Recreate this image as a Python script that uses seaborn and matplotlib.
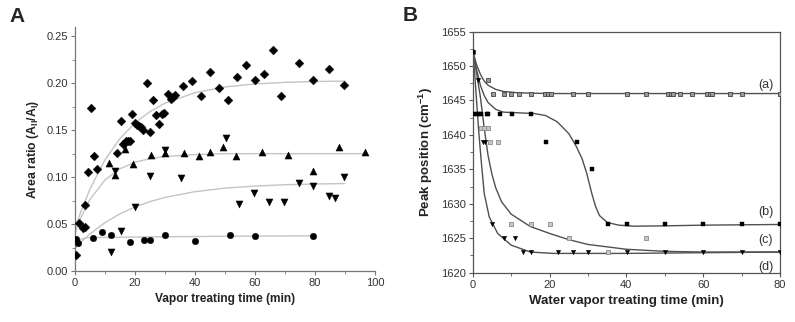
import numpy as np
import pandas as pd
import seaborn as sns
import matplotlib.pyplot as plt
from matplotlib.ticker import MultipleLocator

# Panel A: area ratio vs vapor treating time, four series
dia_x = [0.3, 1.3, 2.6, 3.3, 3.2, 4.2, 5.2, 6.2, 7.2, 14.1, 15.2, 16.1, 16.9, 17.6, 18.3, 19.1,
         20.1, 20.8, 21.4, 22.1, 22.8, 24.0, 25.1, 26.0, 26.9, 28.0, 29.0, 29.8, 30.9, 32.0,
         32.7, 33.2, 35.9, 38.9, 41.9, 44.9, 48.0, 50.9, 53.9, 56.9, 59.9, 62.9, 65.9, 68.7,
         74.7, 79.4, 84.7, 89.7]
dia_y = [0.017, 0.051, 0.0455, 0.047, 0.070, 0.105, 0.1735, 0.122, 0.109, 0.126, 0.160, 0.135,
         0.138, 0.139, 0.139, 0.167, 0.1575, 0.156, 0.1547, 0.1529, 0.1504, 0.1998, 0.148, 0.182,
         0.166, 0.157, 0.167, 0.168, 0.189, 0.183, 0.185, 0.187, 0.197, 0.2027, 0.186, 0.212,
         0.195, 0.182, 0.207, 0.219, 0.204, 0.2098, 0.2357, 0.186, 0.222, 0.204, 0.215, 0.198]
up_x = [11.3, 13.3, 16.8, 19.2, 25.2, 29.9, 36.4, 41.2, 45.0, 49.4, 53.8, 62.2, 71.0, 79.4, 87.9, 96.7]
up_y = [0.115, 0.1024, 0.130, 0.114, 0.124, 0.126, 0.126, 0.122, 0.127, 0.1326, 0.123, 0.1266,
        0.124, 0.107, 0.1326, 0.1266]
down_x = [12.0, 13.3, 15.2, 16.7, 20.1, 25.1, 29.9, 35.2, 50.2, 54.7, 59.8, 64.8, 69.8, 74.7,
          79.4, 84.7, 86.7, 89.7]
down_y = [0.020, 0.107, 0.0427, 0.134, 0.0686, 0.1013, 0.129, 0.0996, 0.142, 0.0715, 0.0836,
          0.074, 0.073, 0.0935, 0.091, 0.080, 0.0775, 0.1006]
circ_x = [0.4, 1.1, 6.1, 9.1, 12.1, 18.2, 23.1, 25.1, 29.9, 40.0, 51.8, 59.9, 79.4]
circ_y = [0.034, 0.0296, 0.035, 0.042, 0.038, 0.0313, 0.033, 0.033, 0.0388, 0.032, 0.0388,
          0.0377, 0.0377]

# fitted curves of panel A
fit_dia_x = [0, 2, 5, 10, 15, 20, 25, 30, 40, 50, 60, 70, 80, 90]
fit_dia_y = [0.045, 0.0636, 0.0873, 0.1184, 0.1411, 0.1577, 0.1699, 0.1788, 0.1900, 0.1961,
             0.1993, 0.2010, 0.2019, 0.2024]
fit_up_x = [0, 2, 5, 10, 15, 20, 25, 30, 40, 50, 96]
fit_up_y = [0.040, 0.057, 0.0762, 0.097, 0.109, 0.1158, 0.1197, 0.122, 0.124, 0.125, 0.125]
fit_down_x = [0, 2, 5, 10, 15, 20, 25, 30, 40, 50, 60, 70, 80, 90]
fit_down_y = [0.024, 0.0307, 0.0395, 0.0515, 0.0609, 0.0682, 0.0739, 0.0784, 0.0845, 0.0883,
              0.0905, 0.0919, 0.0927, 0.0932]
fit_circ_x = [0, 1, 2, 4, 10, 30, 50, 80]
fit_circ_y = [0.027, 0.031, 0.034, 0.0355, 0.0358, 0.0365, 0.037, 0.0375]

# Panel B: peak position vs water vapor treating time
a_x = [0.2, 4.1, 5.2, 8.1, 10.1, 12.1, 15.2, 18.9, 19.5, 20.3, 26.0, 30.1, 40.2, 45.0, 50.9,
       51.5, 52.2, 54.1, 57.1, 60.9, 61.7, 62.2, 67.0, 70.0, 80.0]
a_y = [1652, 1648] + [1646] * 23
b_x = [0.2, 0.4, 1.0, 1.6, 2.2, 3.6, 4.1, 7.1, 10.2, 15.2, 19.1, 27.2, 31.0, 35.3, 40.2, 50.1,
       60.0, 70.0, 80.0]
b_y = [1652] + [1643] * 9 + [1639, 1639, 1635] + [1627] * 6
c_x = [2.2, 3.0, 4.1, 4.6, 6.7, 10.0, 15.2, 20.0, 25.2, 35.1, 45.0]
c_y = [1641, 1641, 1641, 1639, 1639, 1627, 1627, 1627, 1625, 1623, 1625]
d_x = [1.3, 2.6, 3.2, 5.0, 8.1, 11.1, 13.2, 15.2, 22.1, 26.0, 30.0, 40.2, 50.0, 60.0, 70.0, 80.0]
d_y = [1648, 1639, 1639, 1627, 1625, 1625] + [1623] * 10

fit_a_x = [0, 1, 2, 3, 4, 6, 8, 12, 20, 80]
fit_a_y = [1652.2, 1650.2, 1648.8, 1647.8, 1647.2, 1646.6, 1646.3, 1646.1, 1646.0, 1646.0]
fit_b_x = [0, 1, 2, 3, 4, 6, 8, 12, 16, 19, 22, 25, 27, 28.5, 29.7, 31, 32, 33, 35, 38, 42, 50, 60, 80]
fit_b_y = [1652.2, 1649.5, 1647.2, 1645.7, 1644.7, 1643.7, 1643.3, 1643.2, 1643.1, 1642.8,
           1641.9, 1640.2, 1638.3, 1636.5, 1634.4, 1631.5, 1629.6, 1628.3, 1627.3, 1626.9,
           1626.75, 1626.8, 1626.9, 1627.0]
fit_c_x = [0, 1, 2, 3, 4, 5, 6, 7.5, 10, 15, 20, 25, 30, 40, 50, 60, 80]
fit_c_y = [1652.2, 1649.0, 1645.5, 1641.0, 1637.0, 1634.3, 1632.3, 1630.3, 1628.5, 1626.7,
           1625.7, 1624.8, 1624.1, 1623.4, 1623.1, 1623.0, 1623.0]
fit_d_x = [0, 0.5, 1, 1.5, 2.2, 3, 4.3, 6.5, 10, 15, 21, 40, 60, 80]
fit_d_y = [1652.2, 1649.0, 1645.0, 1641.0, 1636.3, 1631.5, 1628.1, 1625.7, 1624.0, 1623.0,
           1622.8, 1622.8, 1622.9, 1623.0]

sns.set_style("ticks")
plt.rcParams['font.family'] = ['Liberation Sans', 'DejaVu Sans']
plt.rcParams['mathtext.fontset'] = 'custom'
plt.rcParams['mathtext.rm'] = 'Liberation Sans'
plt.rcParams['mathtext.bf'] = 'Liberation Sans:bold'

fig = plt.figure(figsize=(7.95, 3.22), dpi=100)
ax1 = fig.add_axes([0.0943, 0.1584, 0.3774, 0.7578])
ax2 = fig.add_axes([0.5946, 0.1531, 0.3865, 0.749])

# ---- panel A ----
fitc = "#c4c4c4"
for fx, fy in [(fit_dia_x, fit_dia_y), (fit_up_x, fit_up_y), (fit_down_x, fit_down_y),
               (fit_circ_x, fit_circ_y)]:
    sns.lineplot(x=fx, y=fy, ax=ax1, color=fitc, lw=1.0, zorder=1)

for xs, ys, m, s in [(dia_x, dia_y, "D", 20), (up_x, up_y, "^", 26), (down_x, down_y, "v", 26),
                     (circ_x, circ_y, "o", 22)]:
    sns.scatterplot(x=xs, y=ys, ax=ax1, marker=m, s=s, color="black", edgecolor="black",
                    linewidth=0.3, zorder=3)

ax1.set_xlim(0, 100)
ax1.set_ylim(0, 0.26)
ax1.set_yticks([0, 0.05, 0.10, 0.15, 0.20, 0.25])
ax1.set_yticklabels(["0.00", "0.05", "0.10", "0.15", "0.20", "0.25"])
ax1.xaxis.set_minor_locator(MultipleLocator(10))
ax1.yaxis.set_minor_locator(MultipleLocator(0.025))
sns.despine(ax=ax1)
ax1.set_xlabel("Vapor treating time (min)", fontsize=8.6, fontweight="bold", color="#222222")
ax1.set_ylabel(r"Area ratio (A$_{\mathbf{II}}$/A$_{\mathbf{I}}$)", fontsize=8.8, fontweight="bold",
               color="#222222")

# ---- panel B ----
linec = "#505050"
for fx, fy in [(fit_a_x, fit_a_y), (fit_b_x, fit_b_y), (fit_c_x, fit_c_y), (fit_d_x, fit_d_y)]:
    sns.lineplot(x=fx, y=fy, ax=ax2, color=linec, lw=1.0, zorder=1)

sns.scatterplot(x=a_x, y=a_y, ax=ax2, marker="s", s=8, color="#9a9a9a", edgecolor="#444444",
                linewidth=0.6, zorder=3)
sns.scatterplot(x=c_x, y=c_y, ax=ax2, marker="s", s=12, color="#c8c8c8", edgecolor="#8a8a8a",
                linewidth=0.6, zorder=3)
sns.scatterplot(x=b_x, y=b_y, ax=ax2, marker="s", s=9, color="black", edgecolor="black",
                linewidth=0.3, zorder=4)
sns.scatterplot(x=d_x, y=d_y, ax=ax2, marker="v", s=10, color="black", edgecolor="black",
                linewidth=0.3, zorder=4)

ax2.set_xlim(0, 80)
ax2.set_ylim(1620, 1655)
ax2.set_xticks([0, 20, 40, 60, 80])
ax2.set_yticks([1620, 1625, 1630, 1635, 1640, 1645, 1650, 1655])
ax2.xaxis.set_minor_locator(MultipleLocator(10))
ax2.yaxis.set_minor_locator(MultipleLocator(2.5))
ax2.set_xlabel("Water vapor treating time (min)", fontsize=9.5, fontweight="bold", color="#222222")
ax2.set_ylabel(r"Peak position (cm$^{\mathbf{-1}}$)", fontsize=9.5, fontweight="bold", color="#222222")
for lab, ly in [("(a)", 1647.2), ("(b)", 1628.8), ("(c)", 1624.8), ("(d)", 1620.9)]:
    ax2.text(76.3, ly, lab, fontsize=9, ha="center", va="center", color="#333333")

for ax, sc in [(ax1, "#777777"), (ax2, "#555555")]:
    for sp in ax.spines.values():
        sp.set_color(sc)
        sp.set_linewidth(0.9)
    ax.tick_params(which="major", length=3, width=0.8, color=sc, labelsize=8, labelcolor="#333333",
                   pad=2)
    ax.tick_params(which="minor", length=2, width=0.6, color=sc)

fig.text(0.022, 0.948, "A", fontsize=15, fontweight="bold", ha="center", va="center")
fig.text(0.516, 0.952, "B", fontsize=15, fontweight="bold", ha="center", va="center")

fig.savefig("out.png", dpi=100)
